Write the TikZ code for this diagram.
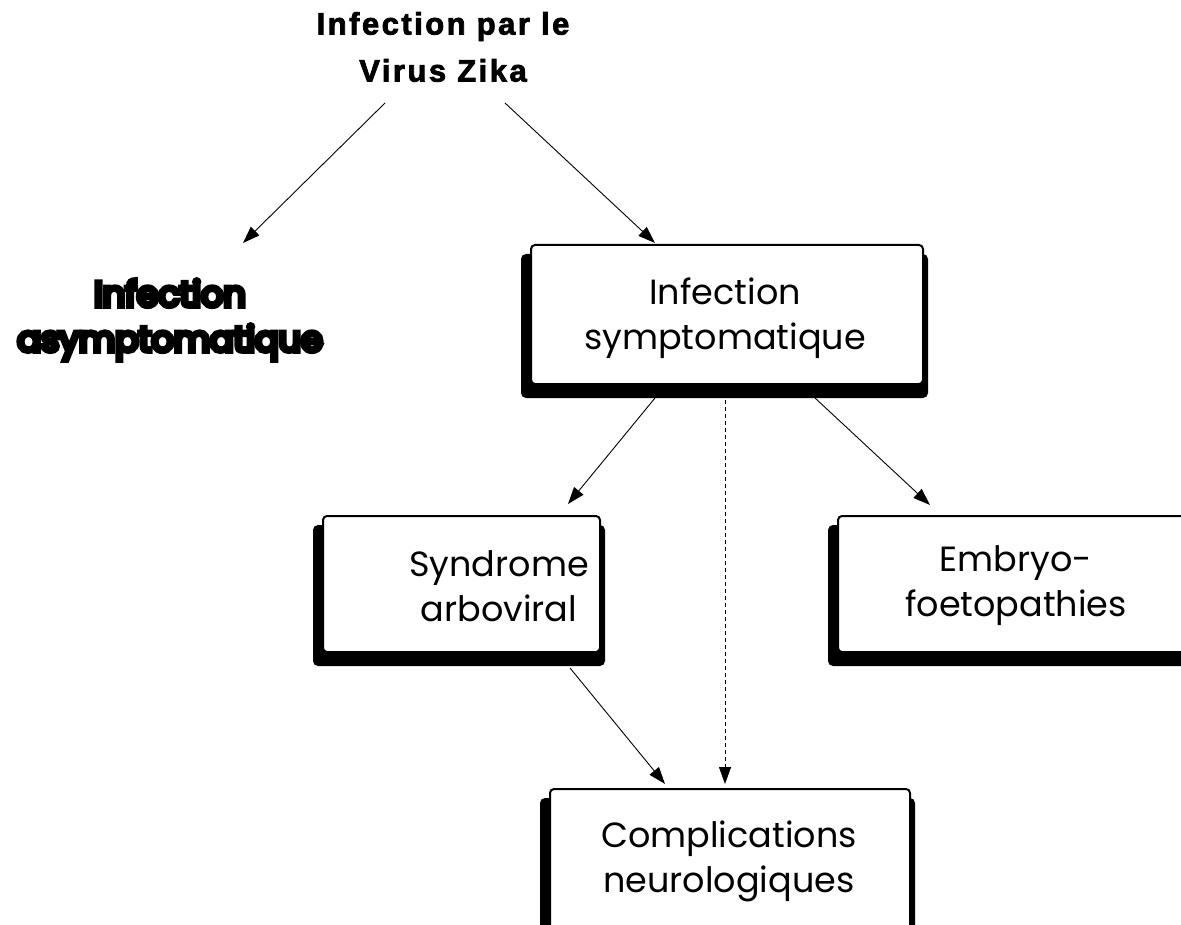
\documentclass[tikz,border=0pt]{standalone}
\usepackage{fontspec}
\setmainfont{Poppins}
\newfontfamily\titlefont{Liberation Sans}[BoldFont=*-Bold, BoldFeatures={FakeBold=2.5}, LetterSpace=8]
\newfontfamily\blobfont{Poppins}[FakeBold=14]
\usetikzlibrary{arrows.meta,backgrounds}
\begin{document}
\begin{tikzpicture}[x=1pt,y=-1pt,
  box/.style={draw, line width=2pt, fill=white, rounded corners=4pt},
  shad/.style={fill=black, rounded corners=5pt},
  txt/.style={font=\fontsize{35}{45}\selectfont, align=center, inner sep=0pt},
  arr/.style={-{Triangle[length=17pt,width=12pt]}, line width=0.9pt},
  darr/.style={arr, dash pattern=on 4pt off 3pt}]
\useasboundingbox (0,0) rectangle (1181,925);
% boxes
\node[box, minimum width=392pt, minimum height=139pt] (sympt) at (727,314.5) {};
\node[box, minimum width=277pt, minimum height=136pt] (synd) at (461.5,584) {};
\node[box, minimum width=356pt, minimum height=136pt] (embr) at (1016,584) {};
\node[box, minimum width=360pt, minimum height=160pt] (compl) at (730,869) {};
\begin{scope}[on background layer]
\foreach \b in {sympt,synd,embr,compl}
  \fill[shad] ([xshift=-9pt,yshift=-10pt]\b.north west) rectangle ([xshift=4pt,yshift=-13pt]\b.south east);
\end{scope}
% texts
\node[txt] (symptT) at (725,318) {Infection\\symptomatique};
\node[txt] (syndT) at (499,586) {Syndrome\\arboviral};
\node[txt] (embrT) at (1016,586) {Embryo-\\foetopathies};
\node[txt] (complT) at (729,861) {Complications\\neurologiques};
\node[txt, font=\blobfont\fontsize{35}{45}\selectfont] (asym) at (170,320) {Infection\\asymptomatique};
\node[align=center, inner sep=0pt, font=\titlefont\bfseries\fontsize{31}{47}\selectfont] (title) at (443,47) {Infection par le\\Virus Zika};
% connector end points
\coordinate (tL) at (385,103);
\coordinate (tR) at (505,103);
\coordinate (aT) at (243,243);
\coordinate (sT) at (655,243);
\coordinate (sBL) at (655,398);
\coordinate (sBM) at (725,400);
\coordinate (sBR) at (815,398);
\coordinate (dT) at (568,504);
\coordinate (eT) at (930,505);
\coordinate (dB) at (570,668);
\coordinate (cL) at (665,784);
\coordinate (cM) at (725,784);
% connectors
\draw[arr] (tL) -- (aT);
\draw[arr] (tR) -- (sT);
\draw[arr] (sBL) -- (dT);
\draw[arr] (sBR) -- (eT);
\draw[darr] (sBM) -- (cM);
\draw[arr] (dB) -- (cL);
\end{tikzpicture}
\end{document}
